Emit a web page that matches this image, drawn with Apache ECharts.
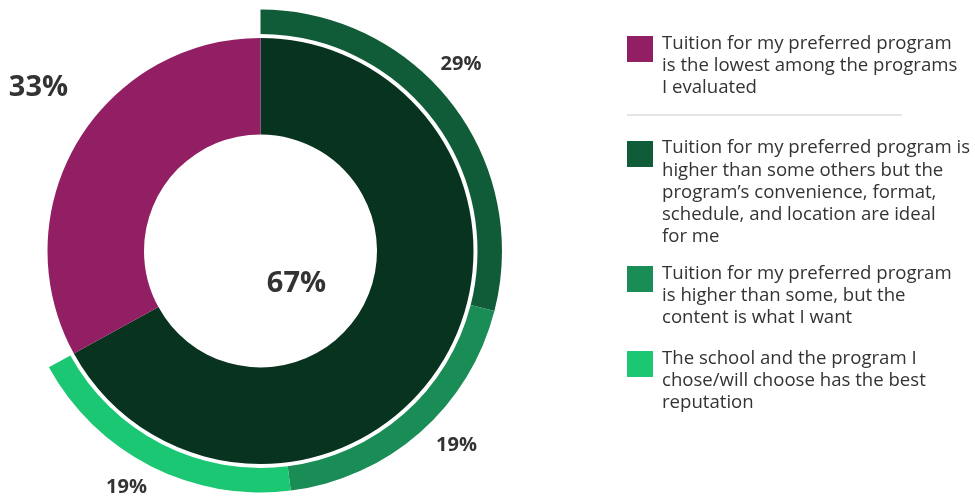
<!DOCTYPE html>
<html><head><meta charset="utf-8">
<script src="https://cdn.jsdelivr.net/npm/echarts@6/dist/echarts.min.js"></script>
<style>html,body{margin:0;padding:0;background:#fff}#c{width:975px;height:499px}</style>
</head><body><div id="c"></div>
<script>
// ---- data ----
var categories = [
  'Tuition for my preferred program is the lowest among the programs I evaluated',
  'Tuition for my preferred program is higher than some others but the program\u2019s convenience, format, schedule, and location are ideal for me',
  'Tuition for my preferred program is higher than some, but the content is what I want',
  'The school and the program I chose/will choose has the best reputation'
];
var legendLines = [
  ['Tuition for my preferred program', 'is the lowest among the programs', 'I evaluated'],
  ['Tuition for my preferred program is', 'higher than some others but the', 'program\u2019s convenience, format,', 'schedule, and location are ideal', 'for me'],
  ['Tuition for my preferred program', 'is higher than some, but the', 'content is what I want'],
  ['The school and the program I', 'chose/will choose has the best', 'reputation']
];
// inner ring, in clockwise order from 12 o'clock
var innerNames = ['Tuition is not the lowest', categories[0]];
var innerValues = [67, 33];
// outer ring (breakdown of the 67%), clockwise from 12 o'clock
var outerNames = [categories[1], categories[2], categories[3]];
var outerValues = [29, 19, 19];

// ---- styles / layout ----
var innerColors = ['#07331f', '#921e63'];
var outerColors = ['#115c38', '#1a8c55', '#1bc773'];
var innerLabelPos = [[296.5, 283.5], [38.5, 88]];
var outerLabelPos = [[461, 64.5], [456.5, 445.5], [126.5, 487.5]];
var legendTops = [32, 137, 262, 347];
var LH = 22.2;
var TXT = '#333333';
var FONT = 'Open Sans';

var innerData = innerValues.map(function (v, i) {
  return { name: innerNames[i], value: v, itemStyle: { color: innerColors[i] } };
});
var outerData = outerValues.map(function (v, i) {
  return { name: outerNames[i], value: v, itemStyle: { color: outerColors[i] } };
});
outerData.push({ name: '', value: innerValues[1], itemStyle: { color: 'rgba(0,0,0,0)' },
  label: { show: false }, emphasis: { disabled: true }, tooltip: { show: false } });

var legends = categories.map(function (name, k) {
  var n = legendLines[k].length;
  var h = Math.round(n * LH);
  return {
    show: true,
    orient: 'vertical',
    left: 627,
    top: legendTops[k],
    padding: 0,
    itemWidth: 30,
    itemHeight: h,
    selectedMode: false,
    icon: 'path://M0,0 M0,4 L26,4 L26,30 L0,30 Z M30,' + h,
    data: [name],
    formatter: function () { return legendLines[k].join('\n'); },
    textStyle: { fontFamily: FONT, fontSize: 18.6, lineHeight: LH, color: TXT }
  };
});

var chart = echarts.init(document.getElementById('c'), null, { renderer: 'canvas' });
chart.setOption({
  animation: false,
  backgroundColor: '#ffffff',
  legend: legends,
  graphic: [{
    type: 'line', shape: { x1: 627, y1: 115, x2: 902, y2: 115 },
    style: { stroke: '#dddddd', lineWidth: 1.5 }
  }],
  series: [
    {
      type: 'pie', name: 'inner', center: [260.5, 251], radius: [116.5, 213],
      startAngle: 90, clockwise: true, avoidLabelOverlap: false,
      data: innerData,
      label: { show: true, position: 'outside', formatter: '{c}%', fontFamily: FONT,
               fontWeight: 'bold', fontSize: 29, color: TXT },
      labelLine: { show: false },
      labelLayout: function (p) {
        var pt = innerLabelPos[p.dataIndex];
        return { x: pt[0], y: pt[1], align: 'center', verticalAlign: 'middle' };
      }
    },
    {
      type: 'pie', name: 'outer', center: [260.5, 251], radius: [217, 241.5],
      startAngle: 90, clockwise: true, avoidLabelOverlap: false,
      data: outerData,
      label: { show: true, position: 'outside', formatter: '{c}%', fontFamily: FONT,
               fontWeight: 'bold', fontSize: 20, color: TXT },
      labelLine: { show: false },
      labelLayout: function (p) {
        var pt = outerLabelPos[p.dataIndex];
        if (!pt) return {};
        return { x: pt[0], y: pt[1], align: 'center', verticalAlign: 'middle' };
      }
    }
  ]
});
</script>
</body></html>
